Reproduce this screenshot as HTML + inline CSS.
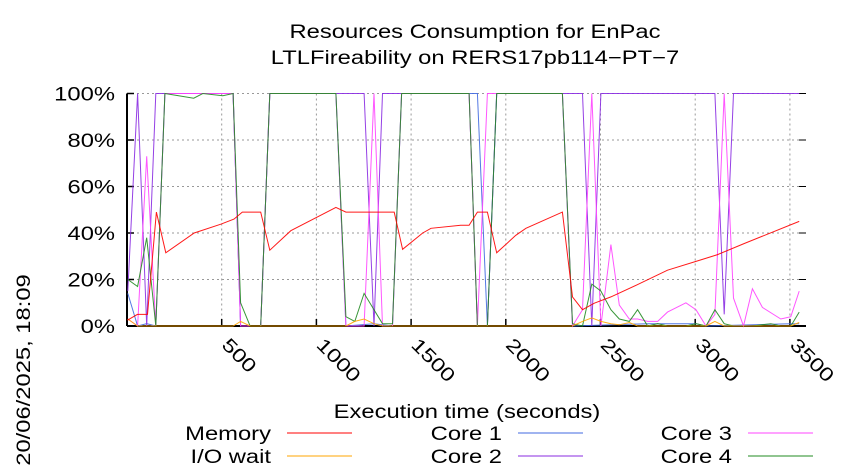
<!DOCTYPE html>
<html><head><meta charset="utf-8"><style>
body{margin:0;background:#fff;}
svg{display:block;font-family:"Liberation Sans",sans-serif;}
</style></head><body>
<svg id="chart" width="850" height="475" viewBox="0 0 850 475">
<text class="sc" x="475" y="38" text-anchor="middle" font-size="19">Resources Consumption for EnPac</text>
<text class="sc" x="475" y="64" text-anchor="middle" font-size="19">LTLFireability on RERS17pb114−PT−7</text>
<g id="grid"></g>
<g id="axes"></g>
<g id="series"></g>
<text class="sc" x="467" y="418" text-anchor="middle" font-size="19">Execution time (seconds)</text>
<text class="sc" transform="translate(30,370) rotate(-90)" text-anchor="middle" font-size="19">20/06/2025, 18:09</text>
<g id="legend"></g>
</svg>
<script>
const xTicks=[500,1000,1500,2000,2500,3000,3500];
const yTicks=[0,20,40,60,80,100];
const memT=[2,55,108,155,205,355,495,565,609,706,754,865,1103,1156,1411,1455,1561,1605,1762,1806,1850,1903,1952,2053,2106,2299,2352,2405,2467,2555,2696,2854,3004,3118,3259,3549];
const memV=[2.5,5,5,49,31.5,40,43.8,46,49,49,32.6,41,51,49,49,33,40,42,43.3,43.3,49,49,31.5,39,42,49,12.5,7,9.8,12.5,17.8,24,27.8,30.7,35.5,45];
const ioT=[4,56,560,600,650,1156,1203,1252,1304,1349,2352,2405,2454,2502,2555,2599,2652,2696,3057,3104,3153,3505,3549];
const ioV=[3,0,0,2,0,0,2,3,1,0,0,2,3.5,2,1,0.5,1.5,0,0,2,0,0,1.5];
const c1T=[4,56,104,152,200,560,600,706,754,1103,1156,1304,1402,1450,1806,1850,1903,1952,2299,2352,2749,2951,3004,3057,3505,3549];
const c1V=[14,0,1,0,100,100,0,0,100,100,0,1,0,100,100,100,0,100,100,0,1,1,1,0,1,1];
const c2T=[4,56,104,152,560,600,706,754,1103,1156,1203,1252,1304,1349,1806,1850,1903,1952,2405,2454,2502,3104,3153,3202,3549];
const c2V=[15,100,0,100,100,0,0,100,100,100,100,100,0,100,100,0,0,100,100,0,100,100,5,100,100];
const c3T=[4,56,104,152,200,560,600,706,754,1103,1156,1203,1252,1304,1349,1402,1450,1806,1850,1903,1952,2299,2352,2405,2454,2502,2555,2599,2652,2696,2749,2802,2854,2951,3004,3057,3104,3153,3202,3255,3302,3355,3452,3505,3549];
const c3V=[3,0,73,0,100,100,0,0,100,100,0,0,0,100,0,0,100,100,0,100,100,100,0,7,100,0,35,9,3,3,2,2,6,10,7,0,5,100,12,0,16,8,3,4,15];
const c4T=[4,56,104,152,200,352,400,506,560,600,650,706,754,1103,1156,1203,1252,1304,1349,1402,1450,1806,1850,1903,1952,2299,2352,2405,2454,2502,2555,2599,2652,2696,2749,2802,2854,2951,3004,3057,3104,3153,3202,3302,3399,3452,3505,3549];
const c4V=[20,17,38,0,100,98,100,99,100,10,0,0,100,100,4,2,14,7,1,1,100,100,0,0,100,100,1,0,18,15,7,3,2,7,0,1,0,0,1,0,7,1,0,0,1,0,0,6];

const NS="http://www.w3.org/2000/svg";
const X0=127,X1=806,Y0=326,Y1=93.5,XMAX=3585;
function sx(t){return X0+(X1-X0)*t/XMAX;}
function sy(v){return Y0-(Y0-Y1)*v/100;}
function mk(tag,attrs,parent){const e=document.createElementNS(NS,tag);for(const k in attrs)e.setAttribute(k,attrs[k]);parent.appendChild(e);return e;}
const grid=document.getElementById('grid'),axes=document.getElementById('axes'),ser=document.getElementById('series'),leg=document.getElementById('legend');
yTicks.forEach(v=>{
  if(v>0){const g=mk('line',{x1:X0,x2:X1,y1:sy(v),y2:sy(v),stroke:'#999','stroke-dasharray':'2,3','stroke-width':1},grid);
  
  }
  const tk=mk('line',{x1:X0,x2:X0+7,y1:sy(v),y2:sy(v),stroke:'#000','stroke-width':1.5},axes);
  
  
  const tk2=mk('line',{x1:X1-7,x2:X1,y1:sy(v),y2:sy(v),stroke:'#000','stroke-width':1},axes);
  
  
  const t=mk('text',{x:115,y:sy(v)+7,'text-anchor':'end','font-size':19,'class':'sc'},axes);
  t.textContent=v+'%';
  
  
});
xTicks.forEach(v=>{
  const g=mk('line',{x1:sx(v),x2:sx(v),y1:Y1,y2:Y0,stroke:'#999','stroke-dasharray':'2,3','stroke-width':1},grid);
  
  
  const tk=mk('line',{x1:sx(v),x2:sx(v),y1:Y0,y2:Y0-7,stroke:'#000','stroke-width':1.5},axes);
  
  
  const t=mk('text',{transform:'translate('+(sx(v)-1)+',346) rotate(45)','font-size':19,'class':'sc'},axes);
  t.textContent=v;
  
  
});
const la=mk('line',{x1:X0,x2:X0,y1:Y1,y2:Y0,stroke:'#000','stroke-width':2},axes);


const ba=mk('line',{x1:X0,x2:X1,y1:Y0,y2:Y0,stroke:'#000','stroke-width':2},axes);


const series=[
 {name:'memory',T:memT,V:memV,c:'#ff0000'},
 {name:'io-wait',T:ioT,V:ioV,c:'#ffa500'},
 {name:'core-1',T:c1T,V:c1V,c:'#4169e1'},
 {name:'core-2',T:c2T,V:c2V,c:'#8a2be2'},
 {name:'core-3',T:c3T,V:c3V,c:'#ff44ff'},
 {name:'core-4',T:c4T,V:c4V,c:'#228b22'}];
[2,3,4,5,1,0].forEach(i=>{const s=series[i];
  const p=mk('polyline',{points:s.T.map((t,j)=>sx(t).toFixed(1)+','+sy(s.V[j]).toFixed(1)).join(' '),fill:'none',stroke:s.c,'stroke-width':1,'stroke-opacity':0.9},ser);
  
  
});
const legItems=[['Memory',271,440,0],['I/O wait',271,463,1],['Core 1',502,440,2],['Core 2',502,463,3],['Core 3',732,440,4],['Core 4',732,463,5]];
legItems.forEach(L=>{
  const t=mk('text',{x:L[1],y:L[2],'text-anchor':'end','font-size':19,'class':'sc'},leg);
  t.textContent=L[0];
  
  
  const l=mk('line',{x1:L[1]+16,x2:L[1]+81,y1:L[2]-7,y2:L[2]-7,stroke:series[L[3]].c,'stroke-width':1},leg);
  
  
});
document.querySelectorAll('text.sc').forEach(t=>{
  const w=t.getComputedTextLength();
  if(w>0){t.setAttribute('textLength',(w*1.25).toFixed(1));t.setAttribute('lengthAdjust','spacingAndGlyphs');}
});
</script>
</body></html>
